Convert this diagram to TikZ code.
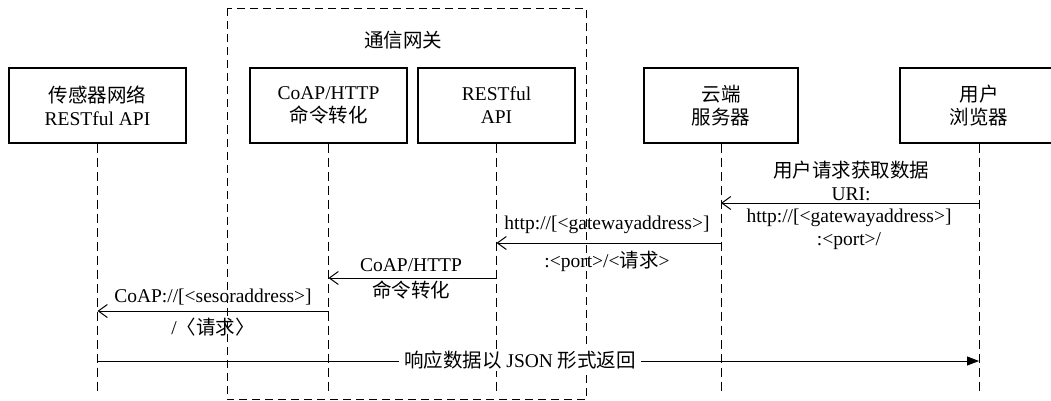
\documentclass[tikz,border=0pt]{standalone}
\usepackage{fontspec}
\setmainfont{Liberation Serif}
\newfontfamily\cjk{Noto Sans CJK SC}
\newcommand\zh[1]{{\cjk #1}}
\usetikzlibrary{arrows.meta}
\begin{document}
\begin{tikzpicture}[x=1pt,y=-1pt,
  every node/.style={font=\fontsize{19.5}{23}\selectfont, inner sep=0pt},
  box/.style={draw, line width=1.1pt, minimum width=157pt, minimum height=75pt, align=center},
  life/.style={line width=0.9pt, dash pattern=on 9pt off 5pt},
  gw/.style={line width=0.9pt, dash pattern=on 8pt off 5pt},
  msg/.style={line width=1pt, -{Straight Barb[length=9pt,width=13pt,line width=1pt]}},
  ret/.style={line width=1pt, -{Triangle[length=12pt,width=9pt]}},
  lbl/.style={align=center}]
\useasboundingbox (0,0) rectangle (1051,401);
\clip (0,0) rectangle (1051,401);
% gateway frame
\draw[gw] (227,8.5) rectangle (586,399.5);
\node (gwt) at (403,40) {\zh{通信网关}};
% participants
\node[box, minimum width=177pt] (b1) at (97.5,105.5) {\zh{传感器网络}\\RESTful API};
\node[box] (b2) at (328.5,105.5) {CoAP/HTTP\\\zh{命令转化}};
\node[box] (b3) at (496.5,105.5) {RESTful\\API};
\node[box, minimum width=154pt] (b4) at (721,105.5) {\zh{云端}\\\zh{服务器}};
\node[box, minimum width=158pt] (b5) at (979,105.5) {\zh{用户}\\\zh{浏览器}};
% lifeline ends
\coordinate (bot) at (0,394);
\foreach \b in {b1,b2,b3,b4,b5}{
  \draw[life] (\b.south) -- (\b.south |- bot);
}
% message levels
\coordinate (y1) at (0,203);
\coordinate (y2) at (0,243);
\coordinate (y3) at (0,278);
\coordinate (y4) at (0,311);
\coordinate (y5) at (0,361);
% message 1
\draw[msg] (b5.south |- y1) -- (b4.south |- y1);
\node[lbl] (t1a) at (851,181) {\zh{用户请求获取数据}\\URI:};
\node[lbl] (t1b) at (849,229) {http://[<gatewayaddress>]\\:<port>/};
% message 2
\draw[msg] (b4.south |- y2) -- (b3.south |- y2);
\node[lbl] (t2a) at (607,225) {http://[<gatewayaddress>]};
\node[lbl] (t2b) at (607,261) {:<port>/<\zh{请求}>};
% message 3
\draw[msg] (b3.south |- y3) -- (b2.south |- y3);
\node[lbl] (t3a) at (411,265) {CoAP/HTTP};
\node[lbl] (t3b) at (411,290) {\zh{命令转化}};
% message 4
\draw[msg] (b2.south |- y4) -- (b1.south |- y4);
\node[lbl] (t4a) at (213,297) {CoAP://[<sesoraddress>]};
\node[lbl] (t4b) at (213,327) {/\zh{〈请求〉}};
% message 5
\draw[ret] (b1.south |- y5) -- (b5.south |- y5);
\node[lbl, fill=white, inner xsep=5pt, inner ysep=2pt] (t5) at (520,360) {\zh{响应数据以} JSON \zh{形式返回}};
\end{tikzpicture}
\end{document}
